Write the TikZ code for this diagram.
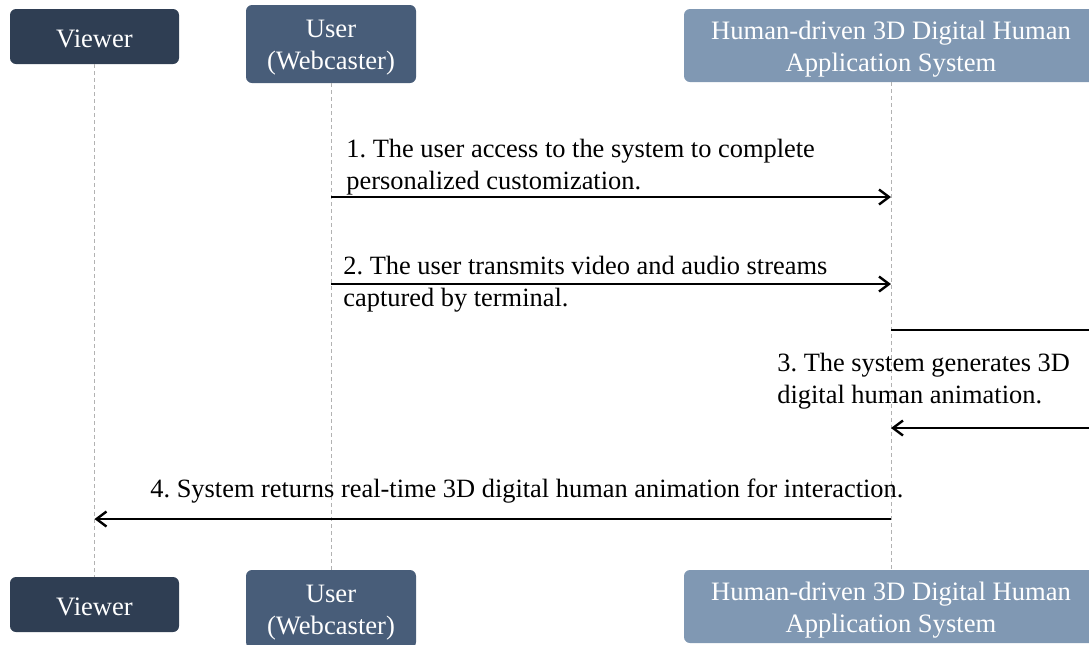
\documentclass[tikz,border=0pt]{standalone}
\usepackage{fontspec}
\setmainfont{Liberation Serif}
\usetikzlibrary{arrows.meta}
\definecolor{viewercol}{HTML}{2F3E53}
\definecolor{usercol}{HTML}{485D79}
\definecolor{syscol}{HTML}{8098B3}
\frenchspacing

\begin{document}
\begin{tikzpicture}[x=0.5pt,y=-0.5pt,
    actor/.style={rounded corners=3pt, inner sep=0pt},
    actortext/.style={text=white, align=center, inner sep=0pt, yshift=-2pt,
      font=\fontsize{13.3}{16}\selectfont},
    life/.style={black!30, line width=0.4pt, dash pattern=on 2pt off 1.5pt},
    msg/.style={line width=1.2pt, -{Straight Barb[length=5pt,width=7.5pt]}},
    lbl/.style={anchor=base west, align=left, inner sep=0pt,
      font=\fontsize{13.2}{16}\selectfont}]
    \useasboundingbox (0,0) rectangle (1089,644);
    \clip (0,0) rectangle (1089,644);

    % actors, top and bottom
    \node[actor, fill=viewercol, minimum width=84.5pt, minimum height=27.5pt,
      label={[actortext, yshift=1pt]center:Viewer}] (viewerT) at (94.5,36.5) {};
    \node[actor, fill=usercol, minimum width=85pt, minimum height=39pt,
      label={[actortext]center:{User\\(Webcaster)}}] (userT) at (331,44) {};
    \node[actor, fill=syscol, minimum width=207pt, minimum height=36.5pt,
      label={[actortext]center:{Human-driven 3D Digital Human\\Application System}}] (sysT) at (891,45.5) {};
    \node[actor, fill=viewercol, minimum width=84.5pt, minimum height=27.5pt,
      label={[actortext, yshift=1pt]center:Viewer}] (viewerB) at (94.5,604.5) {};
    \node[actor, fill=usercol, minimum width=85pt, minimum height=39pt,
      label={[actortext]center:{User\\(Webcaster)}}] (userB) at (331,609) {};
    \node[actor, fill=syscol, minimum width=207pt, minimum height=36.5pt,
      label={[actortext]center:{Human-driven 3D Digital Human\\Application System}}] (sysB) at (891,606.5) {};

    % lifelines
    \draw[life] (viewerT) -- (viewerB);
    \draw[life] (userT) -- (userB);
    \draw[life] (sysT) -- (sysB);

    % messages
    \node[lbl] (lbl1) at (346,189) {1. The user access to the system to complete\\personalized customization.};
    \draw[msg] (userT |- 0,197) -- (sysT |- 0,197);

    \node[lbl] (lbl2) at (343,306) {2. The user transmits video and audio streams\\captured by terminal.};
    \draw[msg] (userT |- 0,284) -- (sysT |- 0,284);

    \coordinate (loopA) at (1100,330);
    \coordinate (loopB) at (1100,428);
    \node[lbl] (lbl3) at (777,403) {3. The system generates 3D\\digital human animation.};
    \draw[msg] (sysT |- loopA) -- (loopA) -- (loopB) -- (sysT |- loopB);

    \node[lbl] (lbl4) at (150,497) {4. System returns real-time 3D digital human animation for interaction.};
    \draw[msg] (sysT |- 0,519) -- (viewerT |- 0,519);
\end{tikzpicture}
\end{document}
